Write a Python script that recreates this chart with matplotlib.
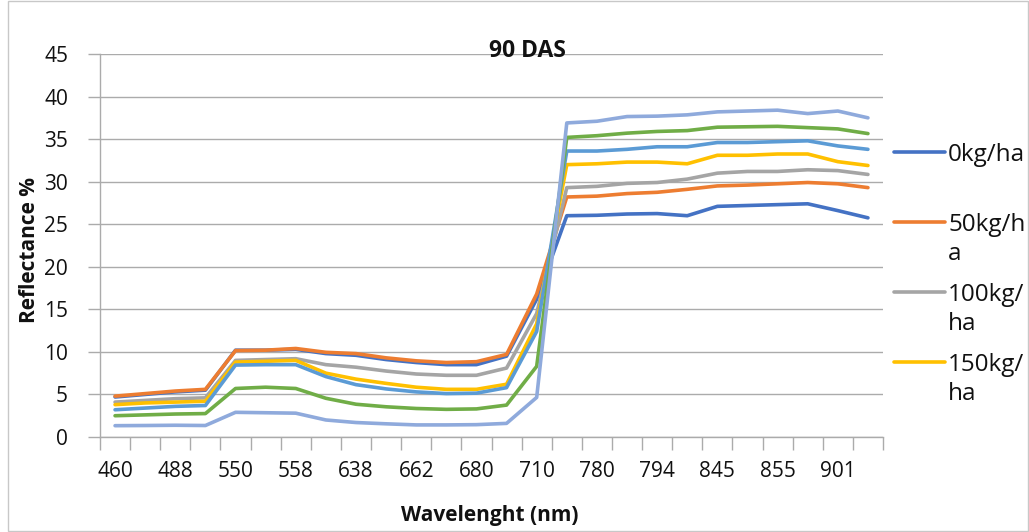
import matplotlib
matplotlib.use("Agg")
import matplotlib.pyplot as plt
from matplotlib.lines import Line2D
from matplotlib.patches import Rectangle
import textwrap

plt.rcParams['font.family'] = ['Open Sans', 'DejaVu Sans']

# ---- data -------------------------------------------------------------
# 26 wavelength categories; only every other one is labelled on the axis
wavelength_labels = ['460', '', '488', '', '550', '', '558', '', '638', '',
                     '662', '', '680', '', '710', '', '780', '', '794', '',
                     '845', '', '855', '', '901', '']

series_names = ['0kg/ha', '50kg/ha', '100kg/ha', '150kg/ha',
                '200kg/ha', '250kg/ha', '300kg/ha']

s_0kg = [4.7, 5.0, 5.3, 5.5, 10.2, 10.2, 10.3, 9.8, 9.6, 9.1, 8.75, 8.5, 8.5,
         9.5, 16.2, 26.0, 26.05, 26.2, 26.25, 26.0, 27.1, 27.2, 27.3, 27.4,
         26.6, 25.75]
s_50kg = [4.8, 5.1, 5.4, 5.6, 10.15, 10.2, 10.4, 9.95, 9.8, 9.3, 8.95, 8.75,
          8.85, 9.7, 16.8, 28.2, 28.3, 28.6, 28.75, 29.1, 29.5, 29.6, 29.75,
          29.9, 29.75, 29.3]
s_100kg = [4.1, 4.3, 4.5, 4.6, 9.0, 9.1, 9.2, 8.5, 8.2, 7.75, 7.4, 7.25, 7.25,
           8.1, 14.5, 29.3, 29.45, 29.8, 29.9, 30.3, 31.0, 31.2, 31.2, 31.4,
           31.3, 30.85]
s_150kg = [3.8, 4.0, 4.1, 4.2, 8.8, 8.9, 9.0, 7.5, 6.8, 6.3, 5.85, 5.6, 5.6,
           6.2, 13.3, 32.0, 32.1, 32.3, 32.3, 32.1, 33.1, 33.1, 33.25, 33.25,
           32.35, 31.9]
s_200kg = [3.2, 3.4, 3.6, 3.7, 8.45, 8.5, 8.5, 7.1, 6.15, 5.65, 5.3, 5.1, 5.15,
           5.8, 12.4, 33.6, 33.6, 33.8, 34.1, 34.1, 34.6, 34.6, 34.7, 34.8,
           34.2, 33.8]
s_250kg = [2.5, 2.6, 2.7, 2.75, 5.7, 5.85, 5.7, 4.55, 3.85, 3.55, 3.35, 3.25,
           3.3, 3.75, 8.3, 35.2, 35.4, 35.7, 35.9, 36.0, 36.4, 36.45, 36.5,
           36.35, 36.2, 35.65]
s_300kg = [1.33, 1.35, 1.38, 1.35, 2.9, 2.85, 2.8, 2.0, 1.7, 1.55, 1.42, 1.42,
           1.45, 1.6, 4.65, 36.9, 37.1, 37.65, 37.7, 37.85, 38.2, 38.3, 38.4,
           38.0, 38.3, 37.5]

all_series = [s_0kg, s_50kg, s_100kg, s_150kg, s_200kg, s_250kg, s_300kg]
colors = ['#4472C4', '#ED7D31', '#A5A5A5', '#FFC000', '#5B9BD5', '#70AD47',
          '#8FAADC']
yticks = [0, 5, 10, 15, 20, 25, 30, 35, 40, 45]
legend_shown = 4   # the legend box only has room for the first four entries

# ---- figure -----------------------------------------------------------
W, H = 1029, 532
fig = plt.figure(figsize=(W / 100, H / 100), dpi=100)
ax = fig.add_axes([100 / W, 1 - 437 / H, (883 - 100) / W, (437 - 54) / H])

grid_c = '#ABABAB'
x = list(range(len(wavelength_labels)))
for vals, c, name in zip(all_series, colors, series_names):
    ax.plot(x, vals, color=c, lw=2.6, solid_capstyle='round',
            solid_joinstyle='round', label=name, zorder=3)

ax.set_xlim(-0.5, len(x) - 0.5)
ax.set_ylim(0, 45)
ax.set_yticks(yticks)
ax.yaxis.grid(True, color=grid_c, lw=1.0, zorder=0)
ax.set_axisbelow(True)

# tick marks between categories, labels centred on every other category
ax.set_xticks([i - 0.5 for i in range(len(x) + 1)])
ax.set_xticklabels([])
ax.set_xticks([i for i, l in enumerate(wavelength_labels) if l], minor=True)
ax.set_xticklabels([l for l in wavelength_labels if l], minor=True)
ax.tick_params(axis='x', which='major', length=9, width=1, color=grid_c,
               direction='out')
ax.tick_params(axis='x', which='minor', length=0, pad=17, labelsize=15,
               labelcolor='#111111')
ax.tick_params(axis='y', length=9, width=1, color=grid_c, direction='out',
               pad=14, labelsize=15, labelcolor='#111111')

for s in ['top', 'right']:
    ax.spines[s].set_visible(False)
for s in ['left', 'bottom']:
    ax.spines[s].set_color(grid_c)
    ax.spines[s].set_linewidth(1.0)

# titles
fig.text(527 / W, 1 - 51 / H, '90 DAS', ha='center', va='center',
         fontsize=16.5, fontweight='bold', color='#111111')
fig.text(490 / W, 1 - 515 / H, 'Wavelenght (nm)', ha='center', va='center',
         fontsize=15, fontweight='bold', color='#111111')
fig.text(30 / W, 1 - 250 / H, 'Reflectance %', ha='center', va='center',
         rotation=90, fontsize=15, fontweight='bold', color='#111111')

# legend (Excel-like: wrapped names, marker aligned to first text line)
y0, dy, line_h = 152, 70, 29
for k in range(legend_shown):
    yy = y0 + k * dy
    fig.add_artist(Line2D([894 / W, 945 / W], [1 - yy / H, 1 - yy / H],
                          color=colors[k], lw=2.6, solid_capstyle='round'))
    parts = textwrap.wrap(series_names[k], 6, break_on_hyphens=False)
    for j, part in enumerate(parts):
        fig.text(948 / W, 1 - (yy + j * line_h) / H, part, ha='left',
                 va='center_baseline', fontsize=17.5, color='#111111')

# chart border
fig.add_artist(Rectangle((8 / W, 1 / H), (W - 9) / W, (H - 2) / H,
                         transform=fig.transFigure, fill=False,
                         edgecolor='#C8C8C8', lw=1.0))

fig.savefig('out.png', dpi=100)
